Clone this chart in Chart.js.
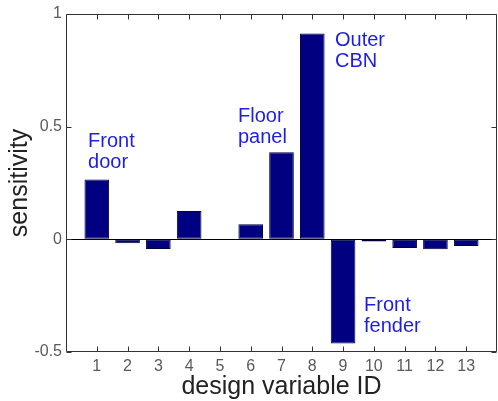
<!DOCTYPE html>
<html>
<head>
<meta charset="utf-8">
<script src="https://cdn.jsdelivr.net/npm/chart.js@4/dist/chart.umd.min.js"></script>
<style>
  html, body { margin: 0; padding: 0; background: #fff; }
  #wrap { width: 498px; height: 401px; }
</style>
</head>
<body>
<div id="wrap"><canvas id="c" width="498" height="401"></canvas></div>
<script>
// ---- data ----
const categories = [1, 2, 3, 4, 5, 6, 7, 8, 9, 10, 11, 12, 13];
const sensitivity = [0.265, -0.017, -0.043, 0.126, 0, 0.067, 0.387, 0.914, -0.462, -0.010, -0.038, -0.044, -0.030];
const yTickValues = [-0.5, 0, 0.5, 1];
const yTickLabels = ['-0.5', '0', '0.5', '1'];
const annotationTexts = [['Front', 'door'], ['Floor', 'panel'], ['Outer', 'CBN'], ['Front', 'fender']];
const annotationX = [0.715, 5.587, 8.738, 9.68];
const annotationY = [0.409, 0.52, 0.858, -0.32];

const FONT = '"Liberation Sans", Arial, sans-serif';

const boxPlugin = {
  id: 'boxPlugin',
  afterDraw(chart) {
    const ctx = chart.ctx;
    const a = chart.chartArea;
    const xs = chart.scales.x, ys = chart.scales.y;
    const L = Math.round(a.left) + 0.5, R = Math.round(a.right) - 0.5;
    const T = Math.round(a.top) + 0.5, B = Math.round(a.bottom) - 0.5;
    ctx.save();
    ctx.strokeStyle = '#333';
    ctx.lineWidth = 1;
    ctx.beginPath();
    ctx.rect(L, T, R - L, B - T);
    // inward ticks
    const tl = 5;
    categories.forEach(v => {
      const px = Math.round(xs.getPixelForValue(v)) + 0.5;
      ctx.moveTo(px, B); ctx.lineTo(px, B - tl);
      ctx.moveTo(px, T); ctx.lineTo(px, T + tl);
    });
    yTickValues.forEach(v => {
      const py = Math.round(ys.getPixelForValue(v)) + 0.5;
      ctx.moveTo(L, py); ctx.lineTo(L + tl, py);
      ctx.moveTo(R, py); ctx.lineTo(R - tl, py);
    });
    ctx.stroke();
    // annotations
    ctx.fillStyle = '#1e1ee0';
    ctx.font = '20px ' + FONT;
    ctx.textAlign = 'left';
    ctx.textBaseline = 'alphabetic';
    annotationTexts.forEach((lines, i) => {
      const px = xs.getPixelForValue(annotationX[i]);
      const py = ys.getPixelForValue(annotationY[i]);
      lines.forEach((t, j) => ctx.fillText(t, px, py + j * 21));
    });
    ctx.restore();
  }
};

new Chart(document.getElementById('c'), {
  type: 'bar',
  data: {
    datasets: [{
      data: categories.map((c, i) => ({ x: c, y: sensitivity[i] })),
      backgroundColor: '#000080',
      borderColor: '#00003a',
      borderWidth: 1,
      borderSkipped: false,
      barPercentage: 0.8,
      categoryPercentage: 1.0
    }]
  },
  options: {
    responsive: false,
    animation: false,
    devicePixelRatio: 1,
    layout: { padding: { top: 14, right: 1, left: 0, bottom: 0 } },
    plugins: { legend: { display: false }, tooltip: { enabled: false } },
    scales: {
      x: {
        type: 'linear',
        min: 0,
        max: 14,
        offset: false,
        afterBuildTicks: s => { s.ticks = categories.map(v => ({ value: v })); },
        afterFit: s => { s.height = 49; },
        grid: { display: false, drawTicks: false },
        border: { display: false },
        ticks: { autoSkip: false, maxRotation: 0, padding: 5, color: '#5a5a5a', font: { family: FONT, size: 16 } },
        title: { display: true, text: 'design variable ID', color: '#222', font: { family: FONT, size: 25, lineHeight: 1.1 }, padding: { top: 0, bottom: 0 } }
      },
      y: {
        min: -0.5,
        max: 1,
        afterBuildTicks: s => { s.ticks = yTickValues.map(v => ({ value: v })); },
        afterFit: s => { s.width = 66; },
        grid: {
          drawTicks: false,
          color: c => (c.tick && c.tick.value === 0) ? '#000' : 'rgba(0,0,0,0)',
          lineWidth: 1
        },
        border: { display: false },
        ticks: {
          padding: 4, color: '#5a5a5a', font: { family: FONT, size: 16 },
          callback: v => { const i = yTickValues.indexOf(v); return i >= 0 ? yTickLabels[i] : ''; }
        },
        title: { display: true, text: 'sensitivity', color: '#222', font: { family: FONT, size: 25, lineHeight: 1.1 }, padding: { top: 6, bottom: 0 } }
      }
    }
  },
  plugins: [boxPlugin]
});
</script>
</body>
</html>
